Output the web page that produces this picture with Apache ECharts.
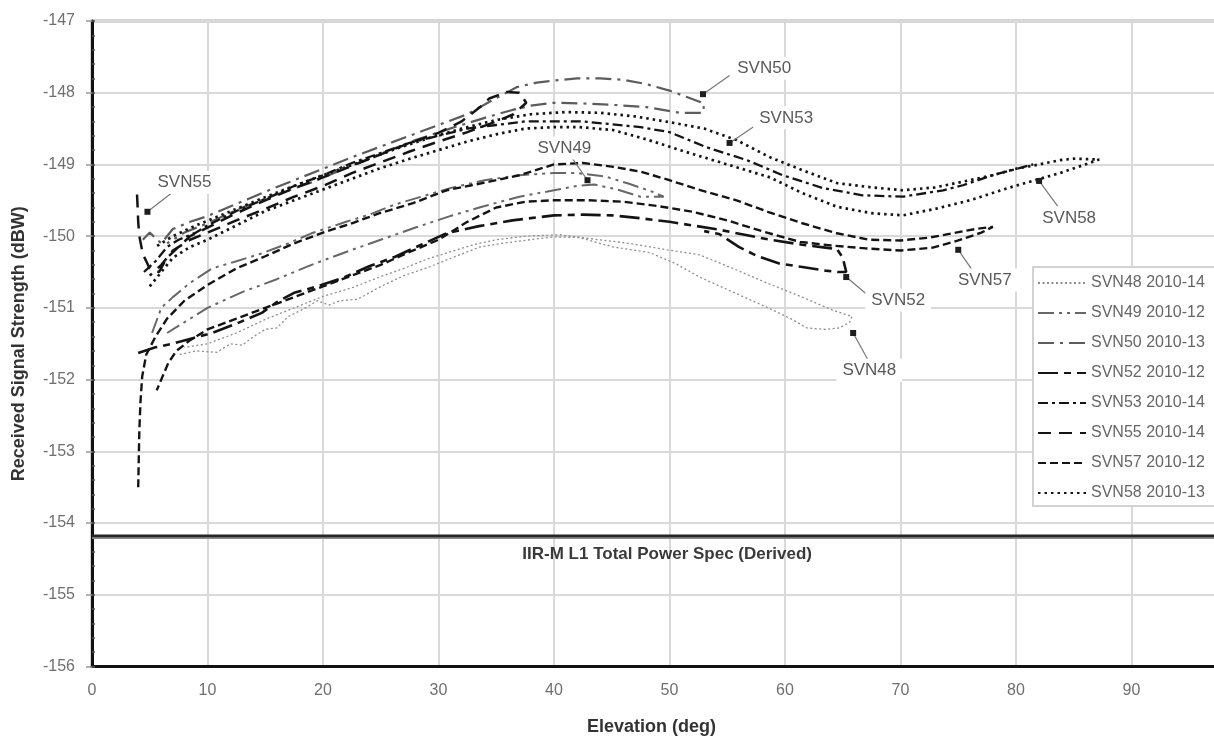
<!DOCTYPE html>
<html>
<head>
<meta charset="utf-8">
<script src="https://cdn.jsdelivr.net/npm/echarts@6/dist/echarts.min.js"></script>
<style>
  html, body { margin: 0; padding: 0; background: #fff; }
  #chart { width: 1214px; height: 740px; }
</style>
</head>
<body>
<div id="chart"></div>
<script>
// Received L1 signal strength vs. elevation, one pass per satellite: [elevation deg, dBW]
const SVN48 = [[7.6,-151.65],[9,-151.6],[10.8,-151.62],[12,-151.5],[13,-151.52],[14,-151.4],[15,-151.3],[16,-151.28],[17,-151.12],[18.5,-151.0],[19.5,-150.9],[20.5,-150.96],[21.5,-150.9],[23,-150.88],[24.9,-150.71],[27,-150.55],[29.2,-150.43],[31.5,-150.28],[33.6,-150.15],[35.5,-150.1],[37.9,-150.05],[40,-150.01],[42.2,-150.02],[45.1,-150.15],[48.3,-150.23],[50.5,-150.38],[52.6,-150.57],[55.5,-150.78],[58.4,-150.99],[60.5,-151.15],[61.9,-151.28],[63.5,-151.3],[64.7,-151.28],[65.6,-151.2],[65.8,-151.12],[64.1,-151.03],[61.5,-150.85],[58.4,-150.65],[55.5,-150.45],[52.6,-150.26],[49.8,-150.19],[46.5,-150.1],[43.9,-150.05],[40.5,-149.98],[37.5,-150.0],[35,-150.05],[33,-150.12],[31,-150.22],[29,-150.32],[27,-150.45],[24.9,-150.57],[22.5,-150.72],[20,-150.84],[17.5,-151.0],[15,-151.16],[12.5,-151.35],[10,-151.5],[8,-151.55]];
const SVN49 = [[5.2,-151.35],[6,-151.0],[7,-150.85],[8.5,-150.65],[10.4,-150.45],[12.5,-150.35],[14.7,-150.24],[17,-150.1],[19,-149.96],[22,-149.8],[24,-149.7],[26.2,-149.56],[28.5,-149.45],[31,-149.33],[34,-149.22],[37,-149.15],[40,-149.12],[42,-149.12],[44.5,-149.17],[46.5,-149.27],[48.5,-149.38],[49.5,-149.45],[47.5,-149.45],[45.5,-149.35],[43.5,-149.28],[42,-149.3],[40,-149.36],[37,-149.45],[34,-149.58],[31,-149.72],[28,-149.88],[25,-150.05],[22,-150.22],[19,-150.4],[16,-150.6],[13,-150.78],[10,-151.0],[8,-151.2],[6.5,-151.35]];
const SVN50 = [[4.4,-150.05],[5,-149.95],[6,-150.1],[7,-149.9],[8.5,-149.8],[10,-149.72],[12.5,-149.55],[15,-149.38],[17.5,-149.22],[20,-149.06],[22.5,-148.9],[25,-148.75],[27.5,-148.6],[30,-148.45],[32.5,-148.3],[34.5,-148.12],[36.8,-147.92],[38.5,-147.86],[40,-147.83],[42,-147.8],[44,-147.8],[46,-147.82],[48,-147.88],[50,-147.97],[51.5,-148.06],[53,-148.15],[52.9,-148.28],[50.9,-148.28],[48,-148.2],[45.1,-148.17],[42.5,-148.15],[39.9,-148.14],[38,-148.18],[36.4,-148.24],[34,-148.35],[31,-148.5],[28,-148.66],[25,-148.85],[22,-149.05],[19,-149.25],[16,-149.42],[13,-149.6],[10,-149.82],[8,-149.95],[6.5,-150.1]];
const SVN52 = [[4.0,-151.63],[5.5,-151.55],[7.2,-151.49],[8.8,-151.42],[10.4,-151.35],[12.5,-151.22],[14.7,-151.07],[16,-150.92],[17.5,-150.79],[19.5,-150.7],[21.9,-150.57],[24,-150.42],[26.2,-150.29],[28.5,-150.12],[30.7,-149.96],[33.5,-149.86],[36.4,-149.78],[40,-149.71],[42.5,-149.7],[45,-149.71],[47.5,-149.75],[50,-149.8],[52,-149.85],[54.3,-149.91],[56.5,-149.98],[58.7,-150.05],[61.5,-150.12],[63.5,-150.16],[64.5,-150.18],[65,-150.3],[65.3,-150.5],[64.6,-150.5],[63.5,-150.48],[61.5,-150.43],[59.5,-150.38],[57.5,-150.27],[56,-150.15],[54.3,-149.97],[53,-149.93]];
const SVN53 = [[4.5,-150.5],[5.5,-150.35],[6.5,-150.15],[7.5,-150.05],[9,-149.95],[10,-149.85],[12.5,-149.65],[15,-149.48],[17.5,-149.3],[20,-149.15],[22.5,-148.98],[25,-148.84],[27.5,-148.7],[30,-148.6],[32.5,-148.5],[35,-148.45],[37.5,-148.4],[40,-148.4],[42.5,-148.4],[45,-148.44],[47.5,-148.48],[50,-148.55],[53.2,-148.76],[56.7,-148.94],[59.8,-149.15],[63.3,-149.33],[66.7,-149.43],[70.2,-149.45],[73.7,-149.36],[75.4,-149.29],[78,-149.15],[80.3,-149.05],[81.5,-149.0]];
const SVN55 = [[3.9,-149.42],[3.95,-149.6],[4.0,-149.8],[4.1,-150.0],[4.4,-150.25],[5,-150.45],[5.8,-150.5],[6.5,-150.3],[7.5,-150.15],[8.5,-150.0],[10,-149.88],[12.5,-149.68],[15,-149.5],[17.5,-149.33],[20,-149.18],[22.5,-149.02],[25,-148.86],[27.5,-148.7],[30,-148.56],[32,-148.4],[33.6,-148.2],[34.4,-148.08],[35.9,-147.99],[37,-148.0],[37.6,-148.14],[36.5,-148.3],[35,-148.4],[32.5,-148.55],[30,-148.68],[27.5,-148.82],[25,-148.97],[22.5,-149.12],[20,-149.3],[17.5,-149.45],[15,-149.62],[12.5,-149.78],[10,-149.95],[8.5,-150.05],[7,-150.2],[6,-150.4],[5,-150.55]];
const SVN57 = [[4.0,-153.5],[4.05,-153.1],[4.1,-152.7],[4.2,-152.3],[4.35,-151.95],[4.7,-151.65],[5.5,-151.4],[6.5,-151.15],[8,-150.9],[10,-150.68],[12.5,-150.45],[15,-150.28],[17.5,-150.1],[20,-149.95],[22.5,-149.82],[24.9,-149.68],[27.8,-149.54],[30.7,-149.36],[34.4,-149.24],[37,-149.15],[40,-149.0],[42.5,-148.98],[45,-149.03],[47.5,-149.1],[50,-149.22],[52.5,-149.35],[55.8,-149.5],[58.5,-149.66],[61.5,-149.82],[64.5,-149.96],[67.3,-150.05],[70,-150.06],[72.5,-150.02],[74.5,-149.96],[76.5,-149.9],[78,-149.87],[77,-149.95],[75,-150.06],[72.8,-150.16],[70,-150.2],[67,-150.17],[64,-150.13],[61.3,-150.08],[58,-149.93],[55,-149.78],[52,-149.66],[49,-149.58],[46,-149.52],[43,-149.5],[40,-149.5],[37.5,-149.52],[35,-149.6],[32.5,-149.8],[30,-150.05],[27.5,-150.22],[25,-150.4],[22.5,-150.55],[20,-150.7],[17.5,-150.85],[15,-151.0],[12.5,-151.15],[10,-151.3],[8.5,-151.45],[7.3,-151.6],[6.6,-151.77],[5.6,-152.15]];
const SVN58 = [[5,-150.7],[6,-150.5],[7,-150.3],[8.5,-150.15],[10,-150.05],[12.5,-149.85],[15,-149.65],[17.5,-149.5],[20,-149.35],[22.5,-149.2],[25,-149.05],[27.5,-148.92],[30,-148.8],[32.5,-148.68],[35,-148.58],[37.5,-148.5],[40,-148.48],[42.2,-148.48],[45.1,-148.52],[48,-148.65],[50.9,-148.8],[55,-149.0],[58.7,-149.18],[61.5,-149.4],[64.5,-149.59],[67.5,-149.68],[70.2,-149.71],[73,-149.62],[76,-149.5],[79.5,-149.32],[83.8,-149.12],[86,-149.0],[87.2,-148.93],[85,-148.92],[83.8,-148.94],[82,-149.0],[80,-149.06],[78,-149.15],[76,-149.22],[73,-149.32],[70.2,-149.36],[67.5,-149.32],[64.5,-149.26],[61.5,-149.08],[58.7,-148.9],[55.8,-148.66],[53,-148.5],[50,-148.41],[47,-148.33],[44,-148.28],[41,-148.27],[38,-148.3],[35,-148.38],[32,-148.5],[29,-148.64],[26,-148.8],[23,-148.98],[20,-149.15],[17,-149.33],[14,-149.52],[11,-149.72],[9,-149.85],[7,-150.0],[5.5,-150.15]];

const passNames = ['SVN48 2010-14', 'SVN49 2010-12', 'SVN50 2010-13', 'SVN52 2010-12',
                   'SVN53 2010-14', 'SVN55 2010-14', 'SVN57 2010-12', 'SVN58 2010-13'];
const passData = [SVN48, SVN49, SVN50, SVN52, SVN53, SVN55, SVN57, SVN58];

// Derived IIR-M L1 minimum total power level (dBW)
const specLevel = -154.18;
const specText = 'IIR-M L1 Total Power Spec (Derived)';
const specTextAt = [49.8, -154.43];

// Callouts: [text, label x, label y, leader start x, leader start y, tip x, tip y]
const callouts = [
  ['SVN50', 58.2, -147.66, 55.2, -147.76, 52.9, -148.02],
  ['SVN53', 60.1, -148.35, 57.8, -148.42, 55.2, -148.7],
  ['SVN49', 40.9, -148.77, 41.6, -148.92, 42.9, -149.22],
  ['SVN55', 8.0, -149.25, 7.2, -149.36, 4.8, -149.66],
  ['SVN52', 69.8, -150.89, 67.0, -150.8, 65.3, -150.57],
  ['SVN48', 67.3, -151.87, 67.2, -151.73, 65.9, -151.35],
  ['SVN57', 77.3, -150.61, 76.2, -150.47, 75.0, -150.19],
  ['SVN58', 84.6, -149.75, 83.6, -149.58, 82.0, -149.23]
];

const xTicks = { min: 0, max: 100, step: 10 };
const yTicks = { min: -156, max: -147, step: 1, minorStep: 0.2 };

const lineStyles = [
  { color: '#8e8e8e', width: 1.3, type: [2, 2.5] },
  { color: '#676767', width: 2, type: [16, 5, 3, 5, 3, 5] },
  { color: '#5c5c5c', width: 2.2, type: [16, 6, 3, 6] },
  { color: '#141414', width: 2.6, type: [20, 6, 7, 6] },
  { color: '#141414', width: 2.3, type: [10, 4, 3, 4] },
  { color: '#141414', width: 2.5, type: [13, 8] },
  { color: '#141414', width: 2.4, type: [8, 4] },
  { color: '#141414', width: 2.7, type: [2.5, 4] }
];

const font = "'Liberation Sans', Arial, sans-serif";

const chart = echarts.init(document.getElementById('chart'), null, { renderer: 'canvas' });

const passSeries = passNames.map((name, i) => ({
  name: name,
  type: 'line',
  data: passData[i],
  symbol: 'none',
  showSymbol: false,
  smooth: false,
  z: 3,
  lineStyle: lineStyles[i],
  itemStyle: { color: lineStyles[i].color }
}));

const calloutSeries = {
  name: 'callouts',
  type: 'line',
  data: [],
  symbol: 'none',
  silent: true,
  z: 1,
  markLine: {
    silent: true,
    symbol: ['none', 'none'],
    animation: false,
    lineStyle: { color: '#777', width: 1.2, type: 'solid' },
    label: { show: false },
    emphasis: { disabled: true },
    data: callouts.map(c => [{ coord: [c[3], c[4]] }, { coord: [c[5], c[6]] }])
  },
  markPoint: {
    silent: true,
    animation: false,
    data: callouts.map(c => ({
      coord: [c[1], c[2]],
      symbol: 'rect',
      symbolSize: 1,
      itemStyle: { color: 'rgba(0,0,0,0)' },
      label: {
        show: true, position: 'inside', formatter: c[0],
        color: '#5a5a5a', fontSize: 17, fontFamily: font,
        backgroundColor: '#fff', padding: [3, 6]
      }
    })).concat(callouts.map(c => ({
      coord: [c[5], c[6]],
      symbol: 'rect',
      symbolSize: 6,
      itemStyle: { color: '#1e1e1e' },
      label: { show: false }
    })))
  }
};

const specShade = {
  name: 'specShade', type: 'line', symbol: 'none', silent: true, z: 2,
  data: [[xTicks.min, specLevel - 0.028], [xTicks.max, specLevel - 0.028]],
  lineStyle: { color: '#8a8a8a', width: 2.2 }
};
const specLine = {
  name: 'spec', type: 'line', symbol: 'none', silent: true, z: 2,
  data: [[xTicks.min, specLevel], [xTicks.max, specLevel]],
  lineStyle: { color: '#262626', width: 2.8 },
  markPoint: {
    silent: true, animation: false,
    data: [{
      coord: specTextAt, symbol: 'rect', symbolSize: 1,
      itemStyle: { color: 'rgba(0,0,0,0)' },
      label: { show: true, position: 'inside', formatter: specText,
               color: '#3a3a3a', fontSize: 17, fontWeight: 'bold', fontFamily: font }
    }]
  }
};

chart.setOption({
  animation: false,
  backgroundColor: '#fff',
  textStyle: { fontFamily: font },
  grid: {
    left: 92, top: 21, width: 1155, height: 645.5,
    outerBoundsMode: 'none', containLabel: false,
    show: true, borderColor: '#ababab', borderWidth: 3, backgroundColor: 'transparent'
  },
  // legend frame runs past the right edge of the page
  graphic: [{
    type: 'rect', left: 1032, top: 266, z: 3, silent: true,
    shape: { width: 260, height: 239 },
    style: { fill: '#fff', stroke: '#d2d2d2', lineWidth: 2 }
  }],
  legend: {
    data: passNames,
    orient: 'vertical',
    left: 1032, top: 266,
    itemWidth: 48, itemHeight: 14, itemGap: 14,
    padding: [9, 10, 7, 5],
    backgroundColor: 'transparent',
    borderWidth: 0,
    itemStyle: { opacity: 0 },
    textStyle: { color: '#666', fontSize: 16, fontFamily: font },
    selectedMode: false
  },
  xAxis: {
    type: 'value',
    min: xTicks.min, max: xTicks.max, interval: xTicks.step,
    name: 'Elevation (deg)', nameLocation: 'middle', nameGap: 52,
    nameTextStyle: { color: '#333', fontSize: 18, fontWeight: 'bold', fontFamily: font, padding: [0, 36, 0, 0] },
    axisLine: { show: true, onZero: false, lineStyle: { color: '#111', width: 3 } },
    axisTick: { show: false },
    axisLabel: { color: '#6f6f6f', fontSize: 16, margin: 16 },
    splitLine: { show: true, lineStyle: { color: '#d9d9d9', width: 2 } }
  },
  yAxis: [{
    type: 'value',
    min: yTicks.min, max: yTicks.max, interval: yTicks.step,
    name: 'Received Signal Strength (dBW)', nameLocation: 'middle', nameGap: 64,
    nameTextStyle: { color: '#333', fontSize: 18, fontWeight: 'bold', fontFamily: font },
    axisLine: { show: true, onZero: false, lineStyle: { color: '#111', width: 3 } },
    axisTick: { show: true, length: 6, lineStyle: { color: '#999', width: 1.5 } },
    axisLabel: { color: '#6f6f6f', fontSize: 16, margin: 17 },
    splitLine: { show: true, lineStyle: { color: '#d9d9d9', width: 2 } }
  }, {
    type: 'value', position: 'left',
    min: yTicks.min, max: yTicks.max, interval: yTicks.minorStep,
    axisLine: { show: false },
    axisTick: { show: true, inside: true, length: 3, lineStyle: { color: '#555', width: 1.5 } },
    axisLabel: { show: false },
    splitLine: { show: false }
  }],
  series: [calloutSeries, specShade, specLine].concat(passSeries)
});
</script>
</body>
</html>
